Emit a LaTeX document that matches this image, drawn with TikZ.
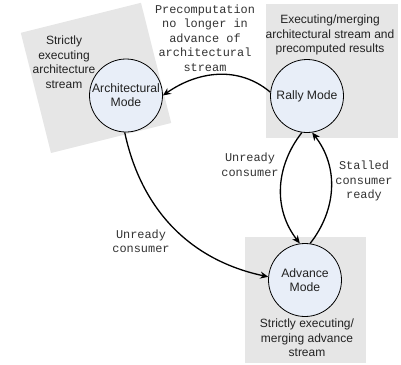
\documentclass[tikz,border=0pt]{standalone}
\usepackage{fontspec}
\setmainfont{Liberation Sans}
\newfontfamily\codefont{Liberation Mono}
\usetikzlibrary{arrows.meta}

\definecolor{panelgray}{HTML}{E6E6E6}
\definecolor{statefill}{HTML}{E8EEF8}
\definecolor{labelgray}{HTML}{333333}
\definecolor{notetext}{HTML}{222222}

\begin{document}
\begin{tikzpicture}[x=1pt,y=1pt,
  panel/.style={fill=panelgray, draw=none},
  modestate/.style={circle, draw=black, line width=0.8pt, fill=statefill,
    minimum size=73pt, inner sep=0pt, align=center, text=notetext,
    font=\fontsize{12.2}{14}\selectfont},
  note/.style={align=center, text=notetext, font=\fontsize{12}{14.5}\selectfont},
  cond/.style={align=center, text=labelgray, font=\codefont\fontsize{11.9}{14.5}\selectfont},
  trans/.style={-{Stealth[length=8pt,width=7pt]}, line width=1.3pt}
]
\useasboundingbox (0,0) rectangle (401,-364);

% background panels
\fill[panelgray] (20.8,-32.8) -- (141,-2.8) -- (171.2,-123) -- (51,-153) -- cycle;
\fill[panelgray] (266,-4) rectangle (398,-138);
\fill[panelgray] (245,-237) rectangle (366,-363);

% mode states
\node[modestate] (arch)  at (126,-95.5) {Architectural\\Mode};
\node[modestate] (rally) at (307,-96) {Rally Mode};
\node[modestate] (adv)   at (305,-280) {Advance\\Mode};

% panel descriptions
\node[note] (archnote)  at (64,-62)  {Strictly\\executing\\architecture\\stream};
\node[note] (rallynote) at (330,-35) {Executing/merging\\architectural stream and\\precomputed results};
\node[note] (advnote)   at (307,-338) {Strictly executing/\\merging advance\\stream};

% transitions
\draw[trans] (rally.174) to[out=140,in=35] (arch.0);
\draw[trans] (arch.268) to[out=-78,in=168] (adv.175);
\draw[trans] (rally.262) to[out=232,in=128] (adv.98);
\draw[trans] (adv.82) to[out=52,in=308] (rally.278);

% transition conditions
\node[cond] (c1) at (205,-38)    {Precomputation\\no longer in\\advance of\\architectural\\stream};
\node[cond] (c2) at (250,-164.5) {Unready\\consumer};
\node[cond] (c3) at (364,-181)   {Stalled\\consumer\\ready};
\node[cond] (c4) at (141,-241)   {Unready\\consumer};
\end{tikzpicture}
\end{document}
